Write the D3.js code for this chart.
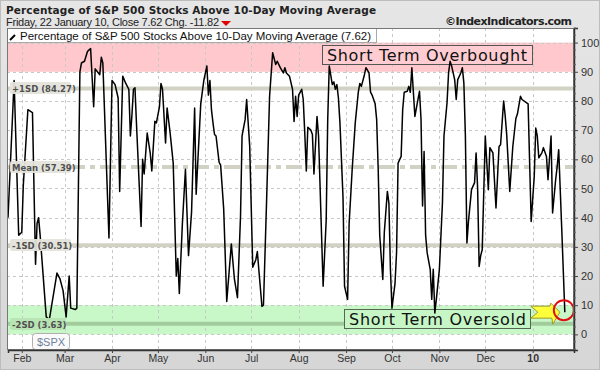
<!DOCTYPE html>
<html>
<head>
<meta charset="utf-8">
<script src="https://cdn.jsdelivr.net/npm/d3@7"></script>
<style>
  body { margin: 0; background: #fff; }
  svg { display: block; }
</style>
</head>
<body>
<div id="chart"></div>
<script>
// data (turning points of the line)
var dates = [
  "2009-01-23","2009-01-27","2009-01-30","2009-02-01","2009-02-02","2009-02-05","2009-02-08","2009-02-10","2009-02-11","2009-02-12",
  "2009-02-13","2009-02-17","2009-02-19","2009-02-24","2009-02-26","2009-02-28","2009-03-02","2009-03-04","2009-03-05","2009-03-08",
  "2009-03-09","2009-03-11","2009-03-12","2009-03-14","2009-03-16","2009-03-18","2009-03-20","2009-03-21","2009-03-24","2009-03-25",
  "2009-03-26","2009-03-30","2009-04-01","2009-04-03","2009-04-05","2009-04-06","2009-04-08","2009-04-10","2009-04-12","2009-04-13",
  "2009-04-14","2009-04-15","2009-04-16","2009-04-17","2009-04-20","2009-04-21","2009-04-22","2009-04-24","2009-04-26","2009-04-27",
  "2009-04-29","2009-04-30","2009-05-02","2009-05-03","2009-05-04","2009-05-06","2009-05-07","2009-05-09","2009-05-11","2009-05-13",
  "2009-05-14","2009-05-15","2009-05-17","2009-05-19","2009-05-21","2009-05-23","2009-05-25","2009-05-26","2009-05-29","2009-05-31",
  "2009-06-02","2009-06-03","2009-06-04","2009-06-05","2009-06-06","2009-06-07","2009-06-08","2009-06-10","2009-06-11","2009-06-13",
  "2009-06-15","2009-06-18","2009-06-20","2009-06-22","2009-06-24","2009-06-25","2009-06-27","2009-06-28","2009-06-30","2009-07-02",
  "2009-07-04","2009-07-05","2009-07-06","2009-07-08","2009-07-09","2009-07-11","2009-07-13","2009-07-15","2009-07-17","2009-07-18",
  "2009-07-20","2009-07-22","2009-07-23","2009-07-24","2009-07-26","2009-07-28","2009-07-29","2009-07-30","2009-07-31","2009-08-01",
  "2009-08-03","2009-08-04","2009-08-05","2009-08-06","2009-08-07","2009-08-09","2009-08-10","2009-08-11","2009-08-13","2009-08-14",
  "2009-08-17","2009-08-19","2009-08-20","2009-08-21","2009-08-23","2009-08-24","2009-08-25","2009-08-26","2009-08-27","2009-08-28",
  "2009-08-30","2009-08-31","2009-09-02","2009-09-03","2009-09-05","2009-09-07","2009-09-09","2009-09-10","2009-09-11","2009-09-13",
  "2009-09-14","2009-09-16","2009-09-17","2009-09-18","2009-09-20","2009-09-21","2009-09-22","2009-09-23","2009-09-25","2009-09-26",
  "2009-09-28","2009-09-29","2009-09-30","2009-10-01","2009-10-03","2009-10-04","2009-10-05","2009-10-07","2009-10-08","2009-10-09",
  "2009-10-11","2009-10-12","2009-10-13","2009-10-14","2009-10-15","2009-10-16","2009-10-18","2009-10-19","2009-10-20","2009-10-21",
  "2009-10-22","2009-10-23","2009-10-24","2009-10-26","2009-10-27","2009-10-28","2009-10-29","2009-10-30","2009-11-01","2009-11-03",
  "2009-11-04","2009-11-06","2009-11-07","2009-11-08","2009-11-09","2009-11-11","2009-11-12","2009-11-13","2009-11-15","2009-11-16",
  "2009-11-17","2009-11-18","2009-11-19","2009-11-20","2009-11-22","2009-11-24","2009-11-25","2009-11-26","2009-11-27","2009-11-28",
  "2009-11-29","2009-12-01","2009-12-03","2009-12-04","2009-12-06","2009-12-08","2009-12-10","2009-12-11","2009-12-13","2009-12-14",
  "2009-12-15","2009-12-17","2009-12-19","2009-12-21","2009-12-22","2009-12-24","2009-12-25","2009-12-29","2009-12-31","2010-01-02",
  "2010-01-03","2010-01-04","2010-01-05","2010-01-07","2010-01-08","2010-01-10","2010-01-11","2010-01-13","2010-01-14","2010-01-16",
  "2010-01-17","2010-01-18","2010-01-20","2010-01-22"
];
var values = [
  40, 87, 34, 35, 51, 77, 76, 24, 38, 40,
  34, 6, 5, 21, 19, 15, 6, 20, 9, 8.5,
  9, 90, 93, 93.6, 97, 98, 78, 91, 89, 95,
  93, 33, 87, 85.6, 81, 49, 88.5, 86, 84, 68,
  75, 84, 84.5, 72, 37, 60, 55, 69, 62, 56,
  73, 72.5, 78, 86, 84, 65.6, 77.6, 69, 58.7, 20,
  26, 14, 38, 56.6, 27, 42, 77.6, 48, 79, 87,
  92, 82, 87, 77, 72.5, 68.5, 68, 59, 58, 43,
  11.3, 31, 19, 12.6, 40.5, 68, 73.6, 80.5, 64.6, 23,
  25.6, 28.4, 22, 9.6, 10, 45, 81.6, 96.5, 92.5, 93.6,
  91.4, 89.6, 91.4, 89.6, 88.5, 84, 73, 81.6, 74.7, 82,
  84, 80.5, 69, 56, 71, 70, 68.5, 55, 74.7, 68,
  16.5, 39, 73.6, 92, 85.6, 86.5, 84, 85.6, 81, 72.5,
  47, 16.5, 12, 38, 56.6, 72.5, 83, 86, 85, 89,
  91.4, 89.6, 83, 82, 79, 73.6, 56.6, 34, 18.8, 35,
  49, 45, 22.3, 9, 17.5, 28, 58.7, 61, 77, 83,
  83.3, 85, 83, 91.4, 83, 74.7, 80.5, 83.3, 73.6, 44,
  62.7, 34, 28, 22.3, 12, 22.3, 7.3, 12, 22.3, 45,
  68, 79.4, 89.6, 93.6, 92, 87.3, 80.5, 87.3, 89.6, 91.4,
  86.2, 68, 31.3, 38.7, 49.6, 52, 62.2, 50, 23.3, 27,
  29, 68, 49.6, 64, 62.2, 43.3, 64.4, 65, 80, 75,
  68.5, 49, 64.4, 74, 75.5, 81.6, 80.5, 79, 38.7, 54,
  70.7, 68, 60.5, 62.2, 64, 61, 53, 68, 41.6, 53,
  57.5, 63.3, 36, 7.62
];
var sdNames = ["+1SD", "Mean", "-1SD", "-2SD"];
var sdValues = [84.27, 57.39, 30.51, 3.63];
var yTicks = [0, 10, 20, 30, 40, 50, 60, 70, 80, 90, 100];
var overbought = [90, 100];
var oversold = [0, 10];

var W = 600, H = 370;
var pl = 7, pr = 574, pt = 28, pb = 350;

var parse = d3.timeParse("%Y-%m-%d");
var data = dates.map(function(d, i) { return {date: parse(d), value: values[i]}; });

var x = d3.scaleTime().domain([new Date(2009, 0, 23), new Date(2010, 0, 28)]).range([pl + 1, pr]);
var y = d3.scaleLinear().domain([-5.35, 105]).range([pb, pt]);

var svg = d3.select("#chart").append("svg").attr("width", W).attr("height", H);

var defs = svg.append("defs");
var grad = defs.append("linearGradient").attr("id", "bg").attr("x1", 0).attr("y1", 0).attr("x2", 0).attr("y2", 1);
grad.append("stop").attr("offset", "0%").attr("stop-color", "#e6e6e6");
grad.append("stop").attr("offset", "100%").attr("stop-color", "#d6d6d6");
defs.append("clipPath").attr("id", "plotclip").append("rect")
  .attr("x", pl).attr("y", pt).attr("width", pr - pl).attr("height", pb - pt);

svg.append("rect").attr("width", W).attr("height", H).attr("fill", "url(#bg)");
svg.append("rect").attr("x", 0.5).attr("y", 0.5).attr("width", W - 1).attr("height", H - 1)
  .attr("fill", "none").attr("stroke", "#bdbdbd");

// plot area
svg.append("rect").attr("x", pl).attr("y", pt).attr("width", pr - pl).attr("height", pb - pt).attr("fill", "#fff");

var plot = svg.append("g").attr("clip-path", "url(#plotclip)");

// bands
plot.append("rect").attr("x", pl).attr("width", pr - pl)
  .attr("y", y(overbought[1])).attr("height", y(overbought[0]) - y(overbought[1])).attr("fill", "#ffc8cc");
plot.append("rect").attr("x", pl).attr("width", pr - pl)
  .attr("y", y(oversold[1])).attr("height", y(oversold[0]) - y(oversold[1])).attr("fill", "#c8f8c8");

// grid
var months = d3.timeMonth.range(new Date(2009, 1, 1), new Date(2010, 0, 2));
plot.selectAll(".hgrid").data(yTicks).enter().append("line")
  .attr("x1", pl).attr("x2", pr)
  .attr("y1", function(d) { return Math.round(y(d)) + 0.5; }).attr("y2", function(d) { return Math.round(y(d)) + 0.5; })
  .attr("stroke", "#c8c8c8").attr("stroke-dasharray", "3,3");
plot.selectAll(".vgrid").data(months).enter().append("line")
  .attr("x1", function(d) { return Math.round(x(d)) + 0.5; }).attr("x2", function(d) { return Math.round(x(d)) + 0.5; })
  .attr("y1", pt).attr("y2", pb)
  .attr("stroke", "#c8c8c8").attr("stroke-dasharray", "3,3");

// SD lines
plot.selectAll(".sd").data(sdValues).enter().append("line")
  .attr("x1", pl).attr("x2", pr)
  .attr("y1", function(d) { return y(d); }).attr("y2", function(d) { return y(d); })
  .attr("stroke", function(d, i) { return i == 3 ? "#a2cc9c" : "#d2d2c4"; })
  .attr("stroke-width", 4)
  .attr("stroke-dasharray", function(d, i) { return i == 1 ? "16,5,5,5" : null; });

// annotation boxes
plot.append("rect").attr("x", 322.5).attr("y", 45.5).attr("width", 210).attr("height", 19)
  .attr("fill", "#ffcdd1").attr("stroke", "#555");
plot.append("text").attr("x", 327).attr("y", 61).attr("font-family", "DejaVu Sans").attr("font-size", 16)
  .attr("textLength", 200).attr("fill", "#111").text("Short Term Overbought");
plot.append("rect").attr("x", 344.5).attr("y", 309.5).attr("width", 186).attr("height", 19)
  .attr("fill", "#c6f6c6").attr("stroke", "#556655");
plot.append("text").attr("x", 349).attr("y", 325).attr("font-family", "DejaVu Sans").attr("font-size", 16)
  .attr("textLength", 177).attr("fill", "#111").text("Short Term Oversold");

// the line
var line = d3.line().x(function(d) { return x(d.date); }).y(function(d) { return y(d.value); });
plot.append("path").datum(data).attr("d", line)
  .attr("fill", "none").attr("stroke", "#000").attr("stroke-width", 1.5).attr("stroke-linejoin", "round");

// arrow and circle at the last close
var last = data[data.length - 1];
var cx = x(last.date) - 1, cy = y(last.value) - 2;
var ax = cx - 33, ay = cy + 2;
var arrow = [[0,-6],[19,-6],[20,-9],[29,0],[22,12],[21,6],[0,6],[7,0]];
plot.append("polygon")
  .attr("points", arrow.map(function(p) { return (ax + p[0]) + "," + (ay + p[1]); }).join(" "))
  .attr("fill", "#ffff3a").attr("stroke", "#9a9a30");
plot.append("circle").attr("cx", cx).attr("cy", cy).attr("r", 10)
  .attr("fill", "none").attr("stroke", "#e01010").attr("stroke-width", 2);

// SD label boxes
var sdg = svg.selectAll(".sdlab").data(sdValues).enter().append("g")
  .attr("transform", function(d) { return "translate(10," + Math.round(y(d)) + ")"; });
sdg.append("rect").attr("x", 0).attr("y", -6).attr("width", function(d, i) { return i == 3 ? 56 : 61; }).attr("height", 12)
  .attr("rx", 2).attr("fill", function(d, i) { return i == 3 ? "#b8e4b4" : "#e4e4dc"; }).attr("opacity", 0.95);
sdg.append("text").attr("x", 2).attr("y", 3.5)
  .attr("font-family", "DejaVu Sans").attr("font-size", 8.5).attr("font-weight", "bold").attr("fill", "#505050")
  .text(function(d, i) { return sdNames[i] + " (" + d3.format(".2f")(d) + ")"; });

// $SPX tag
svg.append("rect").attr("x", 32.5).attr("y", 333.5).attr("width", 37).attr("height", 16).attr("rx", 3)
  .attr("fill", "#fafafa").attr("stroke", "#b0b0b0");
svg.append("text").attr("x", 51).attr("y", 345.5).attr("text-anchor", "middle")
  .attr("font-family", "Liberation Sans").attr("font-size", 11).attr("fill", "#7080a0").text("$SPX");

// legend box
svg.append("rect").attr("x", 7.5).attr("y", 28.5).attr("width", 369).attr("height", 14)
  .attr("fill", "#fff").attr("stroke", "#aaa");
svg.append("path").attr("d", "M10,40 L15,35").attr("stroke", "#000").attr("stroke-width", 2);
svg.append("text").attr("x", 20).attr("y", 39.5)
  .attr("font-family", "Liberation Sans").attr("font-size", 11.5).attr("textLength", 351).attr("fill", "#111")
  .text("Percentage of S&P 500 Stocks Above 10-Day Moving Average (7.62)");

// frame
svg.append("rect").attr("x", pl + 0.5).attr("y", pt + 0.5).attr("width", pr - pl - 1).attr("height", pb - pt - 1)
  .attr("fill", "none").attr("stroke", "#777");

// right axis
var yAxis = d3.axisRight(y).tickValues(yTicks).tickSize(4).tickPadding(3);
var ya = svg.append("g").attr("transform", "translate(" + pr + ",0)").call(yAxis);
ya.select(".domain").attr("stroke", "#333").attr("stroke-width", 1.5);
ya.selectAll(".tick line").attr("stroke", "#444");
ya.selectAll("text").attr("font-family", "Liberation Sans").attr("font-size", 11).attr("fill", "#333");
var minor = d3.range(-5, 106, 2.5).filter(function(v) { return v % 10 != 0; });
svg.selectAll(".minor").data(minor).enter().append("line")
  .attr("x1", pr).attr("x2", pr + 2)
  .attr("y1", function(d) { return y(d); }).attr("y2", function(d) { return y(d); })
  .attr("stroke", "#666");

// bottom axis
var xAxis = d3.axisBottom(x).tickValues(months).tickSize(3).tickPadding(2)
  .tickFormat(function(d) { return d.getMonth() == 0 ? "10" : d3.timeFormat("%b")(d); });
var xa = svg.append("g").attr("transform", "translate(0," + pb + ")").call(xAxis);
xa.select(".domain").attr("stroke", "#333").attr("stroke-width", 1.5);
xa.selectAll(".tick line").attr("stroke", "#444");
xa.selectAll("text").attr("font-family", "Liberation Sans").attr("font-size", 10.5).attr("fill", "#333")
  .attr("font-weight", function(d) { return d.getMonth() == 0 ? "bold" : null; });

// titles
svg.append("text").attr("x", 6).attr("y", 14)
  .attr("font-family", "DejaVu Sans").attr("font-size", 10.5).attr("font-weight", "bold").attr("textLength", 370)
  .attr("fill", "#222").text("Percentage of S&P 500 Stocks Above 10-Day Moving Average");
svg.append("text").attr("x", 6).attr("y", 26)
  .attr("font-family", "Liberation Sans").attr("font-size", 11).attr("textLength", 213).attr("fill", "#222")
  .text("Friday, 22 January 10, Close 7.62  Chg. -11.82");
svg.append("path").attr("d", "M221,21 L231,21 L226,26 Z").attr("fill", "#e00000");
svg.append("text").attr("x", 572).attr("y", 25).attr("text-anchor", "end")
  .attr("font-family", "DejaVu Sans").attr("font-size", 11).attr("font-weight", "bold").attr("textLength", 127)
  .attr("fill", "#222").text("\u00a9IndexIndicators.com");
</script>
</body>
</html>
